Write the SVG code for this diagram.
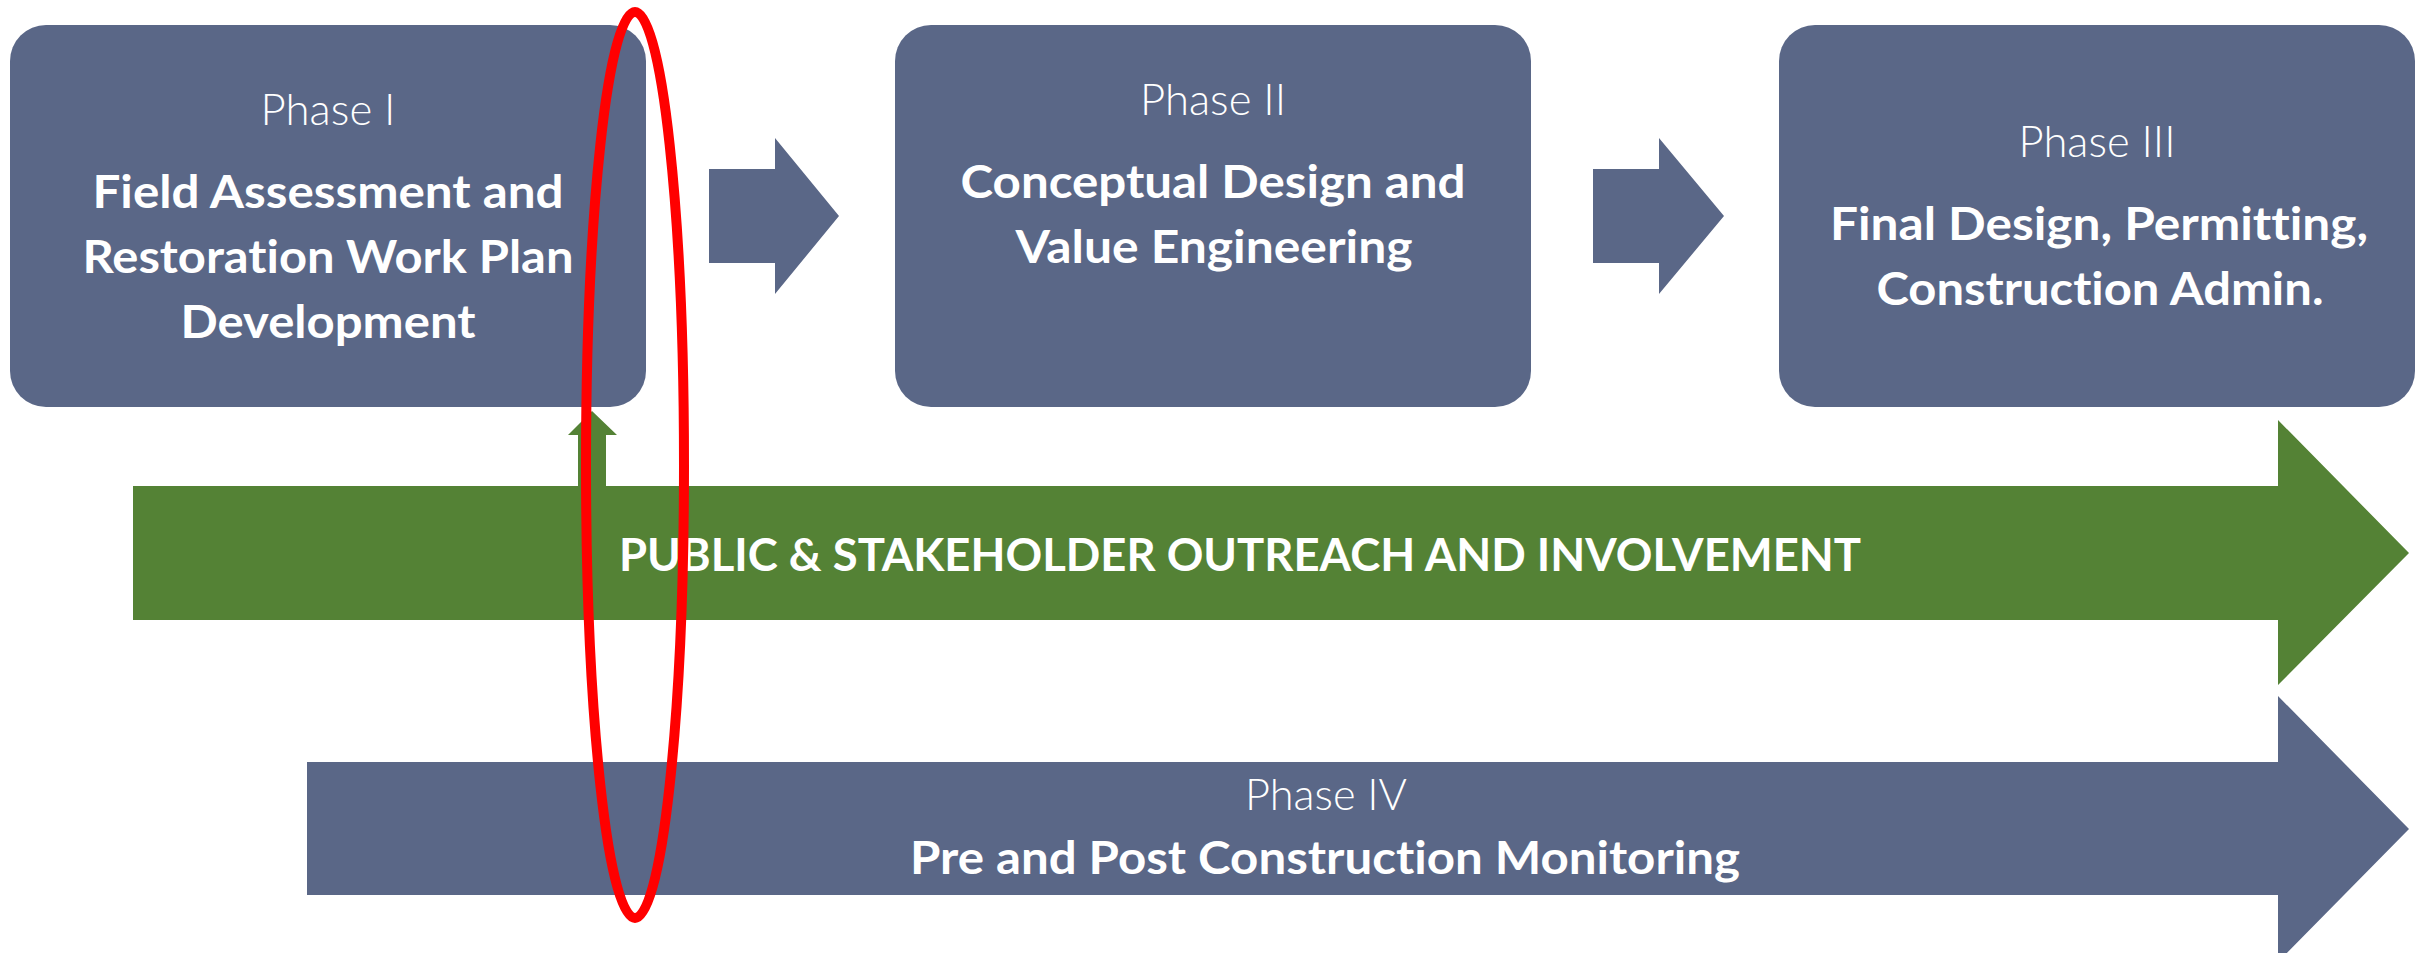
<svg xmlns="http://www.w3.org/2000/svg" width="2420" height="953" viewBox="0 0 2420 953">
<style>
.box{fill:#5A6787;}
.blk{fill:#5A6787;}
.grn{fill:#548235;}
text{fill:#FFFFFF;text-anchor:middle;font-family:Lato,"Open Sans","Liberation Sans",sans-serif;font-variant-ligatures:none;}
.ph{font-size:44px;font-weight:300;}
.tt{font-size:45px;font-weight:bold;}
.big{font-size:46px;font-weight:bold;}
</style>
<rect width="2420" height="953" fill="#FFFFFF"/>
<g id="connectors">
<polygon class="blk" points="709,169 775,169 775,138 839,216 775,294 775,263 709,263"/>
<polygon class="blk" points="1593,169 1659,169 1659,138 1724,216 1659,294 1659,263 1593,263"/>
<polygon class="grn" points="578,486 578,435 568,435 592,411 617,435 606,435 606,486"/>
</g>
<g id="phase1">
<rect class="box" x="10" y="25" width="636" height="382" rx="36" ry="36"/>
<text class="ph" x="328" y="125" textLength="135" lengthAdjust="spacingAndGlyphs">Phase I</text>
<text class="tt" x="328" y="208" textLength="471" lengthAdjust="spacingAndGlyphs">Field Assessment and</text>
<text class="tt" x="328" y="273" textLength="491" lengthAdjust="spacingAndGlyphs">Restoration Work Plan</text>
<text class="tt" x="328" y="338" textLength="295" lengthAdjust="spacingAndGlyphs">Development</text>
</g>
<g id="phase2">
<rect class="box" x="895" y="25" width="636" height="382" rx="36" ry="36"/>
<text class="ph" x="1213" y="115" textLength="146" lengthAdjust="spacingAndGlyphs">Phase II</text>
<text class="tt" x="1213" y="198" textLength="505" lengthAdjust="spacingAndGlyphs">Conceptual Design and</text>
<text class="tt" x="1214" y="263" textLength="397" lengthAdjust="spacingAndGlyphs">Value Engineering</text>
</g>
<g id="phase3">
<rect class="box" x="1779" y="25" width="636" height="382" rx="36" ry="36"/>
<text class="ph" x="2097" y="157" textLength="157" lengthAdjust="spacingAndGlyphs">Phase III</text>
<text class="tt" x="2099" y="240" textLength="538" lengthAdjust="spacingAndGlyphs">Final Design, Permitting,</text>
<text class="tt" x="2100" y="305" textLength="447" lengthAdjust="spacingAndGlyphs">Construction Admin.</text>
</g>
<g id="outreach">
<polygon class="grn" points="133,486 2278,486 2278,420 2409,553 2278,685 2278,620 133,620"/>
<text class="big" x="1240" y="571" textLength="1242" lengthAdjust="spacingAndGlyphs">PUBLIC &amp; STAKEHOLDER OUTREACH AND INVOLVEMENT</text>
</g>
<g id="phase4">
<polygon class="blk" points="307,762 2278,762 2278,696 2409,829 2278,962 2278,895 307,895"/>
<text class="ph" x="1326" y="810" textLength="162" lengthAdjust="spacingAndGlyphs">Phase IV</text>
<text class="tt" x="1325" y="874" textLength="830" lengthAdjust="spacingAndGlyphs">Pre and Post Construction Monitoring</text>
</g>
<ellipse id="highlight" cx="635" cy="465" rx="49" ry="453" fill="none" stroke="#FF0000" stroke-width="10"/>
</svg>
